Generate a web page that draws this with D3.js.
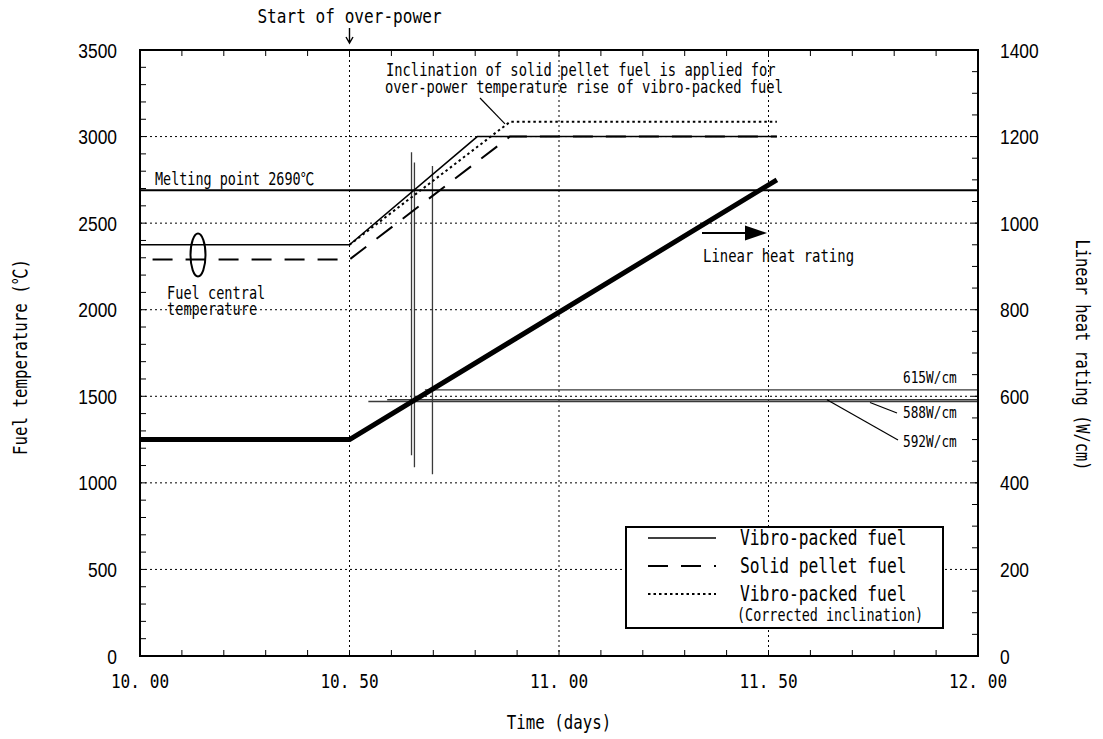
<!DOCTYPE html>
<html>
<head>
<meta charset="utf-8">
<script src="https://cdn.jsdelivr.net/npm/d3@7"></script>
<style>
  html, body { margin: 0; padding: 0; background: #fff; }
  svg { display: block; }
</style>
</head>
<body>
<svg id="chart" width="1103" height="739"></svg>
<script>
// ---- data ----
const xTicks = [10.0, 10.5, 11.0, 11.5, 12.0];
const tempTicks = [0, 500, 1000, 1500, 2000, 2500, 3000, 3500];
const heatTicks = [0, 200, 400, 600, 800, 1000, 1200, 1400];

// fuel central temperature (°C) against time (days)
const vibroDays = [10.0, 10.5, 10.805, 11.52];
const vibroTemp = [2375, 2375, 3000, 3000];
const pelletDays = [10.03, 10.5, 10.883, 11.52];
const pelletTemp = [2290, 2290, 3000, 3000];
const correctedDays = [10.5, 10.883, 11.52];
const correctedTemp = [2375, 3085, 3085];

// linear heat rating (W/cm)
const heatDays = [10.0, 10.5, 11.52];
const heatRating = [500, 500, 1100];

const meltingPoint = 2690;

// reference heat-rating levels (W/cm) and where their lines begin (days)
const levelValues = [615, 592, 588];
const levelStart = [10.68, 10.59, 10.545];
const levelLabels = ["615W/cm", "592W/cm", "588W/cm"];

// vertical markers: time (days), top and bottom (°C)
const markerDays = [10.648, 10.655, 10.698];
const markerTop = [2910, 2850, 2830];
const markerBottom = [1160, 1090, 1050];

const legendLabels = ["Vibro-packed fuel", "Solid pellet fuel", "Vibro-packed fuel"];

// ---- layout ----
const L = 140, R = 978, T = 50, B = 656;
const svg = d3.select("#chart");

const x = d3.scaleLinear().domain([10, 12]).range([L, R]);
const yT = d3.scaleLinear().domain([0, 3500]).range([B, T]);
const yW = d3.scaleLinear().domain([0, 1400]).range([B, T]);

const MONO = "'DejaVu Sans Mono', 'Liberation Mono', 'Noto Sans CJK JP', monospace";
const SANS = "'Liberation Sans', Arial, sans-serif";

// text drawn with a narrow glyph width (half an em per character)
function mono(str, px, py, size, opts = {}) {
  const rot = opts.rotate || 0;
  return svg.append("text")
    .attr("transform", `translate(${px},${py}) rotate(${rot}) scale(0.83,1.04)`)
    .attr("font-family", MONO)
    .attr("font-size", size)
    .attr("text-anchor", opts.anchor || "start")
    .attr("fill", "#000")
    .text(str);
}
function num(str, px, py, anchor) {
  return svg.append("text")
    .attr("transform", `translate(${px},${py}) scale(0.87,1)`)
    .attr("font-family", SANS)
    .attr("font-size", 20)
    .attr("text-anchor", anchor)
    .attr("fill", "#000")
    .text(str);
}

// ---- grid ----
const gridDash = "2,3";
const grid = svg.append("g").attr("stroke", "#000").attr("stroke-width", 1).attr("stroke-dasharray", gridDash);
xTicks.slice(1, -1).forEach(d => {
  grid.append("line").attr("x1", x(d)).attr("x2", x(d)).attr("y1", T).attr("y2", B);
});
tempTicks.slice(1, -1).forEach(d => {
  grid.append("line").attr("x1", L).attr("x2", R).attr("y1", yT(d)).attr("y2", yT(d));
});

// ---- minor ticks (inward, all four sides) ----
const tk = svg.append("g").attr("stroke", "#000").attr("stroke-width", 1);
const tLen = 6;
d3.range(10, 12.0001, 0.1).forEach(d => {
  tk.append("line").attr("x1", x(d)).attr("x2", x(d)).attr("y1", B).attr("y2", B - tLen);
  tk.append("line").attr("x1", x(d)).attr("x2", x(d)).attr("y1", T).attr("y2", T + tLen);
});
d3.range(0, 3501, 100).forEach(d => {
  tk.append("line").attr("x1", L).attr("x2", L + tLen).attr("y1", yT(d)).attr("y2", yT(d));
});
d3.range(0, 1401, 50).forEach(d => {
  tk.append("line").attr("x1", R).attr("x2", R - tLen).attr("y1", yW(d)).attr("y2", yW(d));
});

// ---- tick labels ----
xTicks.forEach(d => mono(d3.format(".2f")(d).replace(".", ". "), x(d), 688, 19.4, { anchor: "middle" })
  .attr("xml:space", "preserve"));
tempTicks.forEach(d => num(String(d), 117, yT(d) + 7.5, "end"));
heatTicks.forEach(d => num(String(d), 1000, yW(d) + 7.5, "start"));

// ---- axis titles ----
mono("Time (days)", x(11), 729, 19, { anchor: "middle" });
mono("Fuel temperature (℃)", 27, 357, 19, { anchor: "middle", rotate: -90 });
mono("Linear heat rating (W/cm)", 1076, 355, 18.5, { anchor: "middle", rotate: 90 });

// ---- reference heat-rating levels ----
const gray = "#3a3a3a";
levelValues.forEach((v, i) => {
  svg.append("line")
    .attr("x1", x(levelStart[i])).attr("x2", R)
    .attr("y1", yW(v)).attr("y2", yW(v))
    .attr("stroke", gray).attr("stroke-width", 1.3);
});
markerDays.forEach((d, i) => {
  svg.append("line")
    .attr("x1", x(d)).attr("x2", x(d))
    .attr("y1", yT(markerTop[i])).attr("y2", yT(markerBottom[i]))
    .attr("stroke", gray).attr("stroke-width", 1.3);
});

// ---- melting point ----
svg.append("line")
  .attr("x1", L).attr("x2", R)
  .attr("y1", yT(meltingPoint)).attr("y2", yT(meltingPoint))
  .attr("stroke", "#000").attr("stroke-width", 2.2);
mono("Melting point 2690℃", 155, 185, 16.2);

// ---- series ----
const lineT = d3.line().x(d => x(d[0])).y(d => yT(d[1]));
const lineW = d3.line().x(d => x(d[0])).y(d => yW(d[1]));

svg.append("path").datum(d3.zip(heatDays, heatRating))
  .attr("d", lineW).attr("fill", "none").attr("stroke", "#000").attr("stroke-width", 5)
  .attr("stroke-linejoin", "round");

svg.append("path").datum(d3.zip(pelletDays, pelletTemp))
  .attr("d", lineT).attr("fill", "none").attr("stroke", "#000").attr("stroke-width", 2)
  .attr("stroke-dasharray", "20,13");

svg.append("path").datum(d3.zip(correctedDays, correctedTemp))
  .attr("d", lineT).attr("fill", "none").attr("stroke", "#000").attr("stroke-width", 2)
  .attr("stroke-dasharray", "2.5,3");

svg.append("path").datum(d3.zip(vibroDays, vibroTemp))
  .attr("d", lineT).attr("fill", "none").attr("stroke", "#000").attr("stroke-width", 1.5);

// ---- frame ----
svg.append("rect").attr("x", L).attr("y", T).attr("width", R - L).attr("height", B - T)
  .attr("fill", "none").attr("stroke", "#000").attr("stroke-width", 2);

// ---- annotations ----
mono("Start of over-power", x(10.5), 23, 19.4, { anchor: "middle" });
const ax = x(10.5);
svg.append("path")
  .attr("d", `M${ax},28 V43 M${ax - 3.5},37 L${ax},43 L${ax + 3.5},37`)
  .attr("fill", "none").attr("stroke", "#000").attr("stroke-width", 1.4);

mono("Inclination of solid pellet fuel is applied for", 386, 76, 16.6);
mono("over-power temperature rise of vibro-packed fuel", 385, 93, 16.6);
svg.append("line").attr("x1", 480).attr("y1", 98).attr("x2", x(correctedDays[1]) - 5).attr("y2", yT(correctedTemp[1]) + 2)
  .attr("stroke", "#000").attr("stroke-width", 1.2);

svg.append("ellipse").attr("cx", 198).attr("cy", 255).attr("rx", 7.5).attr("ry", 21.5)
  .attr("fill", "none").attr("stroke", "#000").attr("stroke-width", 2);
mono("Fuel central", 167, 299, 16.4);
mono("temperature", 167, 315, 16.4);

// arrow pointing to the right-hand axis
svg.append("line").attr("x1", 702).attr("x2", 748).attr("y1", 233).attr("y2", 233)
  .attr("stroke", "#000").attr("stroke-width", 2);
svg.append("path").attr("d", "M745,225.5 L767,233 L745,240.5 Z").attr("fill", "#000");
mono("Linear heat rating", 703, 262, 16.8);

// level labels with leaders
mono(levelLabels[0], 903, 383, 15.4);
mono(levelLabels[2], 903, 418, 15.4);
mono(levelLabels[1], 903, 447, 15.4);
svg.append("line").attr("x1", 870).attr("y1", yW(588) + 1).attr("x2", 897).attr("y2", 413)
  .attr("stroke", "#000").attr("stroke-width", 1.2);
svg.append("line").attr("x1", 827).attr("y1", yW(592)).attr("x2", 898).attr("y2", 440)
  .attr("stroke", "#000").attr("stroke-width", 1.2);

// ---- legend ----
const lg = { x: 626, y: 527, w: 317, h: 101 };
svg.append("rect").attr("x", lg.x).attr("y", lg.y).attr("width", lg.w).attr("height", lg.h)
  .attr("fill", "#fff").attr("stroke", "#000").attr("stroke-width", 2);
const rowY = [538, 566, 594];
const styles = [
  { w: 1.5, dash: null },
  { w: 2, dash: "20,13" },
  { w: 2, dash: "2.5,3" }
];
rowY.forEach((ry, i) => {
  svg.append("line").attr("x1", 648).attr("x2", 716).attr("y1", ry).attr("y2", ry)
    .attr("stroke", "#000").attr("stroke-width", styles[i].w)
    .attr("stroke-dasharray", styles[i].dash);
  mono(legendLabels[i], 740, ry + 7, 19.6);
});
mono("(Corrected inclination)", 737, 621, 16.2);
</script>
</body>
</html>
